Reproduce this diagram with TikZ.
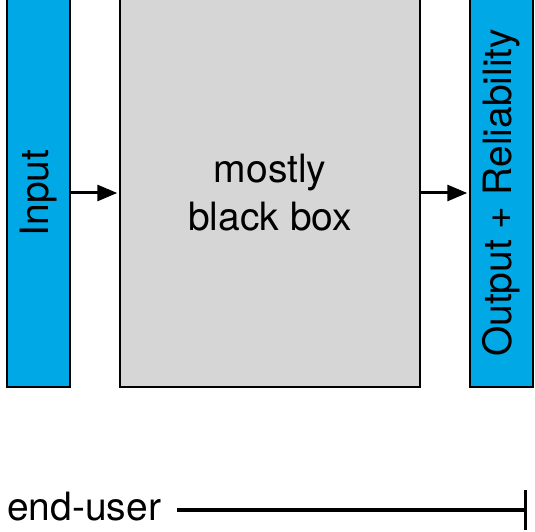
\documentclass[tikz,border=0pt]{standalone}
\usepackage{fontspec}
\setmainfont{TeX Gyre Heros}
\usetikzlibrary{arrows.meta}
\definecolor{barblue}{RGB}{0,168,230}
\definecolor{boxgray}{RGB}{214,214,214}
\begin{document}
\begin{tikzpicture}[x=1pt, y=1pt,
    every node/.style={font=\fontsize{39}{48}\selectfont, inner sep=0pt},
    bar/.style={draw=black, line width=1.5pt, fill=barblue, rotate=90, minimum width=388pt, minimum height=63pt},
    flow/.style={line width=3pt, -{Triangle[length=20pt, width=16pt]}}]
    \useasboundingbox (0,0) rectangle (535,532);
    \node[bar] (input) at (38.5,339) {Input};
    \node[draw=black, line width=1.5pt, fill=boxgray, minimum width=300pt, minimum height=388pt,
        align=center] (blackbox) at (270,339) {mostly\\black box};
    \node[bar] (output) at (501.5,339) {Output + Reliability};
    \draw[flow] (input.south) -- ([xshift=-2pt]blackbox.west);
    \draw[flow] (blackbox.east) -- ([xshift=-2pt]output.north);
    \node[anchor=base west] (enduser) at (7,11) {end-user};
    \coordinate (userend) at (527,22);
    \draw[line width=3.5pt, -{Bar[width=40pt, line width=3.5pt]}] ([xshift=16pt]enduser.east |- userend) -- (userend);
\end{tikzpicture}
\end{document}
